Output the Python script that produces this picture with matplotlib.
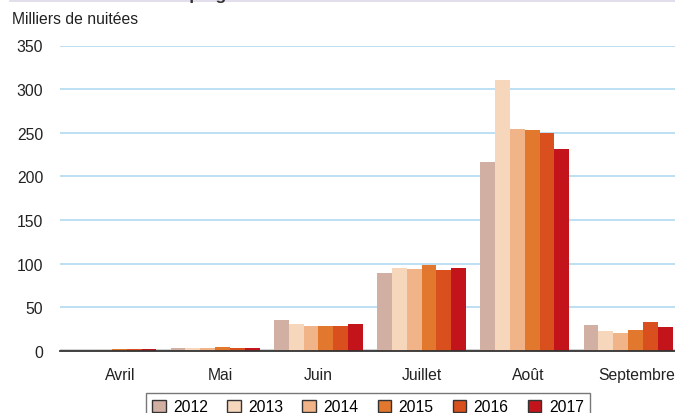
import numpy as np
import matplotlib
matplotlib.use("Agg")
import matplotlib.pyplot as plt
from matplotlib.lines import Line2D

plt.rcParams['font.family'] = ['Liberation Sans', 'DejaVu Sans']

months = ["Avril", "Mai", "Juin", "Juillet", "Août", "Septembre"]
years = ["2012", "2013", "2014", "2015", "2016", "2017"]

# milliers de nuitées, one list per year
v2012 = [0, 3, 36, 89, 216, 30]
v2013 = [0, 3, 31, 95, 310, 23]
v2014 = [1, 3, 29, 94, 254, 21]
v2015 = [2, 5, 29, 99, 253, 24]
v2016 = [2, 4, 29, 93, 250, 33]
v2017 = [2, 3, 31, 95, 231, 27]
series = [v2012, v2013, v2014, v2015, v2016, v2017]

colors = ["#d1afa3", "#f7d7bb", "#f1b388", "#e1782d", "#d9501e", "#c3141c"]

fig = plt.figure(figsize=(6.75, 4.14), dpi=100)
ax = fig.add_axes([60 / 675, 62 / 414, 615 / 675, 305.5 / 414])

x = np.arange(len(months))
w = 0.1436
for i, (vals, c) in enumerate(zip(series, colors)):
    ax.bar(x + (i - 2.5) * w, vals, w, color=c, label=years[i], zorder=3,
           edgecolor="none")

ax.set_ylim(0, 350)
ax.set_xlim(-0.503, 5.455)
ax.set_yticks(np.arange(0, 351, 50))
ax.yaxis.grid(True, color="#acd6ef", lw=1.1, zorder=0)
ax.axhline(0, color="#cfcfcf", lw=3.5, zorder=1)
ax.set_axisbelow(True)

# tick labels sit slightly off the group centres in the reference
label_shift = [0.08, 0.05, 0.0, 0.0, 0.03, 0.08]
ax.set_xticks(x + np.array(label_shift))
ax.set_xticklabels(months)
ax.tick_params(axis="x", length=0, pad=11.5, labelsize=11.3, colors="#222222")
ax.tick_params(axis="y", length=0, pad=12, labelsize=11.3, colors="#222222")

for s in ["top", "right", "left"]:
    ax.spines[s].set_visible(False)
ax.spines["bottom"].set_color("#333333")
ax.spines["bottom"].set_linewidth(1.3)
ax.spines["bottom"].set_zorder(4)

fig.text(12 / 675, 1 - 20 / 414, "Milliers de nuitées", fontsize=11.3,
         va="center", ha="left", color="#222222")

# title of the page, cut off above the image
fig.text(12 / 675, 1.0, "Nuitées dans les campings", fontsize=12.5,
         fontweight="bold", va="baseline", ha="left", color="#333333")
fig.add_artist(Line2D([10 / 675, 1.0], [1 - 1.5 / 414, 1 - 1.5 / 414],
                      color="#ddd8e8", lw=1.2))

leg = fig.legend(loc="upper center", bbox_to_anchor=(368 / 675, 1 - 394 / 414),
                 ncol=6, fontsize=11.3, frameon=True, fancybox=False,
                 handlelength=0.85, handleheight=0.85, handletextpad=0.5,
                 columnspacing=1.2, borderpad=0.4, borderaxespad=0)
leg.get_frame().set_edgecolor("#555555")
leg.get_frame().set_linewidth(1.0)
for h in leg.legend_handles:
    h.set_edgecolor("#333333")
    h.set_linewidth(1.0)

fig.savefig("out.png", dpi=100)
